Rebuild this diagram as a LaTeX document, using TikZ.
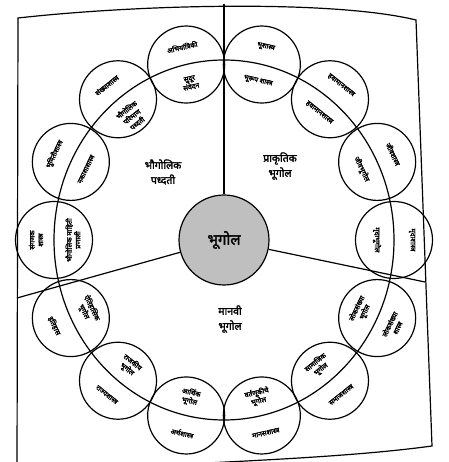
\documentclass[tikz,border=0pt]{standalone}
\usepackage{fontspec}
\usetikzlibrary{calc}
\newfontfamily\dev[Script=Devanagari,FakeBold=2.2]{Noto Sans}
\begin{document}
\begin{tikzpicture}[x=1pt,y=1pt,
  ln/.style={line width=1.2pt},
  sc/.style={circle, draw, line width=1.2pt, minimum size=77pt, inner sep=0pt},
  lab/.style={font=\dev\fontsize{7}{8.6}\selectfont, align=center, inner sep=0pt},
  sec/.style={font=\dev\fontsize{10.5}{15}\selectfont, align=center, inner sep=0pt},
  hub/.style={circle, draw, line width=1.2pt, fill=gray!50, minimum size=90pt, inner sep=0pt,
              font=\dev\fontsize{15}{17}\selectfont}]
\useasboundingbox (-224,-222) rectangle (224,240);
\clip (-224,-222) rectangle (224,240);
% frame
\coordinate (tl) at (-206,222);
\coordinate (tr) at (192,220);
\coordinate (br) at (208,-206);
\coordinate (bl) at (-207,-232);
\draw[ln] (tl) .. controls (-80,236) and (110,240) .. (tr) -- (br)
  .. controls (120,-218) and (0,-222) .. (bl) -- cycle;
% hub
\node[hub] (g) at (0,0) {भूगोल};
% dividers
\coordinate (et) at (0,236);
\coordinate (er) at (201,-42);
\coordinate (el) at (-207,-58);
\draw[ln] (g) -- (et);
\draw[ln] (g) -- (er);
\draw[ln] (g) -- (el);
% ring
\draw[ln] (0,0) ellipse [x radius=170, y radius=180];
% circles
\foreach \ang/\txo/\txi/\dd [count=\n] in {
  77.14/{भूशास्त्र}/{भूरूप शास्त्र}/17,
  51.43/{हवामानशास्त्र}/{हवामानशास्त्र}/17,
  25.71/{जीवशास्त्र}/{जीवभूगोल}/17,
  0/{मृदाशास्त्र}/{मृदाभूगोल}/17,
  -25.71/{लोकसंख्या\\शास्त्र}/{लोकसंख्या\\भूगोल}/18,
  -51.43/{समाजशास्त्र}/{सामाजिक\\भूगोल}/19,
  -77.14/{मानसशास्त्र}/{वर्तणूकीचे\\भूगोल}/19,
  -102.86/{अर्थशास्त्र}/{आर्थिक\\भूगोल}/19,
  -128.57/{राज्यशास्त्र}/{राजकीय\\भूगोल}/19,
  -154.29/{इतिहास}/{ऐतिहासिक\\भूगोल}/19,
  180/{संगणक\\शास्त्र}/{भौगोलिक माहिती\\प्रणाली}/19,
  154.29/{भूमितीशास्त्र}/{नकाशाशास्त्र}/17,
  128.57/{संख्याशास्त्र}/{भौगोलिक\\परिमाण\\पध्दती}/22,
  102.86/{अभियांत्रिकी}/{सुदूर\\संवेदन}/19}
{
  \pgfmathsetmacro{\rt}{ifthenelse(\ang<0,\ang+90,\ang-90)}
  \node[sc] (c\n) at (\ang:170 and 180) {};
  \node[lab, rotate=\rt] (o\n) at ($(c\n.center)+(\ang:18)$) {\txo};
  \node[lab, rotate=\rt] (i\n) at ($(c\n.center)+(\ang:-\dd)$) {\txi};
}
% sector labels
\node[sec] (s1) at (-61,68) {भौगोलिक\\पध्दती};
\node[sec] (s2) at (56,74) {प्राकृतिक\\भूगोल};
\node[sec] (s3) at (6,-79) {मानवी\\भूगोल};
\end{tikzpicture}
\end{document}
